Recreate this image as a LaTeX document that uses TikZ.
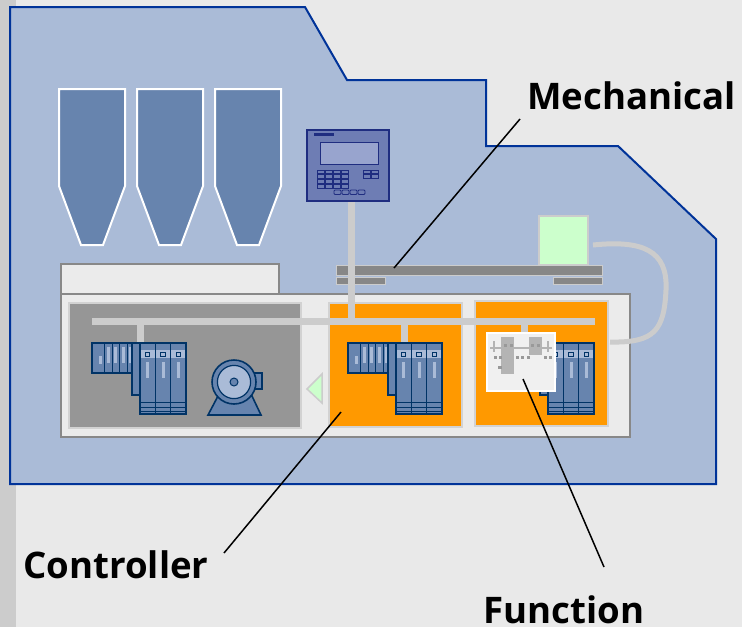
\documentclass[tikz,border=0pt]{standalone}
\usepackage{fontspec}
\setmainfont{Open Sans}
\usetikzlibrary{positioning, calc}

\definecolor{canvas}{HTML}{E9E9E9}
\definecolor{strip}{HTML}{CCCCCC}
\definecolor{plantfill}{HTML}{AABBD7}
\definecolor{plantline}{HTML}{003399}
\definecolor{silofill}{HTML}{6784AE}
\definecolor{boxfill}{HTML}{EBEBEB}
\definecolor{boxline}{HTML}{888888}
\definecolor{cellgray}{HTML}{969696}
\definecolor{cellline}{HTML}{D2D2D2}
\definecolor{orange}{HTML}{FF9900}
\definecolor{busgray}{HTML}{CCCCCC}
\definecolor{modfill}{HTML}{6784AE}
\definecolor{modline}{HTML}{003366}
\definecolor{modlight}{HTML}{AABBD7}
\definecolor{hmifill}{HTML}{6E7DB4}
\definecolor{hmiline}{HTML}{1F2D80}
\definecolor{hmiscreen}{HTML}{98A4CE}
\definecolor{mint}{HTML}{CCFFCC}
\definecolor{railgray}{HTML}{878787}
\definecolor{fbgray}{HTML}{B4B4B4}

\begin{document}
\begin{tikzpicture}[
    x=0.5pt, y=-0.5pt,
    tag/.style={anchor=base west, inner sep=0pt,
        font=\fontsize{18.3}{22}\selectfont\bfseries},
    leader/.style={line width=0.75pt, black},
    plant/.style={fill=plantfill, draw=plantline, line width=1pt, line join=miter},
    silo/.style={fill=silofill, draw=white, line width=1pt},
    frame/.style={fill=boxfill, draw=boxline, line width=0.75pt},
    cell/.style={draw=cellline, line width=1pt},
    bus/.style={busgray, line width=3.5pt},
    module/.style={fill=modfill, draw=modline, line width=0.8pt},
    thin/.style={modline, line width=0.4pt},
    keys/.style={draw=hmiline, line width=0.4pt},
    rail/.style={fill=railgray, draw=busgray, line width=0.5pt},
    plc/.pic={
        % rack of narrow cards
        \draw[module] (0,0) rectangle (50,30);
        \foreach \x in {12,20,27,35} \draw[thin] (\x,0) -- (\x,30);
        \fill[modlight] (7,13) rectangle ++(3,8);
        \foreach \x in {14.5,22,29.5,37} \fill[modlight] (\x,4) rectangle ++(3,16);
        % back plate
        \draw[module] (40,0) rectangle (50,52);
        % three wide cards
        \foreach \i in {0,1,2} {
            \draw[module] ({48+15.3*\i},0) rectangle ++(15.3,71);
            \fill[modlight] ({48.5+15.3*\i},7) rectangle ++(14.3,8);
            \draw[thin] ({53.5+15.3*\i},9) rectangle ++(4.3,4);
            \fill[modlight] ({54.2+15.3*\i},19) rectangle ++(3,16);
            \foreach \y in {59,64,68} \draw[thin] ({48+15.3*\i},\y) -- ++(15.3,0);
        }
    }
]

\useasboundingbox (0,0) rectangle (742,627);
\fill[canvas] (0,0) rectangle (742,627);
\fill[strip] (0,0) rectangle (16,627);

% plant outline
\draw[plant] (10,7) -- (305,7) -- (347,80) -- (486,80) -- (486,146) -- (618,146)
    -- (716,239) -- (716,484) -- (10,484) -- cycle;

% silos
\foreach \dx in {0,78,156}
    \draw[silo] (59+\dx,89) -- (125+\dx,89) -- (125+\dx,186) -- (103+\dx,245)
        -- (81+\dx,245) -- (59+\dx,186) -- cycle;

% feeder and main cabinet
\draw[frame] (61,294) -- (61,264) -- (279,264) -- (279,294);
\draw[frame] (61,294) rectangle (630,437);
\fill[cellgray] (69,303) rectangle (301,428);
\draw[cell] (69,303) rectangle (301,428);
\fill[orange] (329,303) rectangle (462,427);
\draw[cell] (329,303) rectangle (462,427);
\fill[orange] (475,301) rectangle (608,426);
\draw[cell] (475,301) rectangle (608,426);

% mechanical rail
\draw[rail] (336,265) rectangle (602,275);
\draw[rail] (336,277) rectangle (385,284);
\draw[rail] (553,277) rectangle (602,284);
\draw[fill=mint, draw=busgray, line width=0.75pt] (539,216) rectangle (588,265);
\draw[busgray, line width=2.5pt] (593,245) .. controls (642,240) and (668,250) .. (666,290)
    .. controls (664,330) and (655,343) .. (610,342);

% operator panel and its pole
\draw[bus] (351,200) -- (351,321);
\draw[fill=hmifill, draw=hmiline, line width=1pt] (307,130) rectangle (389,201);
\fill[hmiline] (314,133) rectangle (334,136);
\draw[fill=hmiscreen, draw=hmiline, line width=0.5pt] (320,142) rectangle (378,164);
\foreach \c in {0,...,3}
    \foreach \r in {0,...,3}
        \draw[keys] (317+8*\c,170+4.7*\r) rectangle ++(7,3.8);
\foreach \c in {0,1}
    \foreach \r in {0,1}
        \draw[keys] (363+8*\c,170+4.7*\r) rectangle ++(7,3.8);
\foreach \c in {0,...,3}
    \draw[keys, rounded corners=0.5pt] (334+8*\c,190) rectangle ++(7,4.5);

% fieldbus
\draw[bus] (92,321) -- (595,321);
\draw[bus] (140,321) -- (140,343);
\draw[bus] (404,321) -- (404,343);
\draw[bus] (524,321) -- (524,334);

% controllers
\pic at (92,343) {plc};
\pic at (348,343) {plc};
\pic at (500,343) {plc};

% drive motor
\draw[module] (208,415) -- (218,396) -- (252,396) -- (261,415) -- cycle;
\draw[module] (254,373) rectangle (262,389);
\draw[module] (234,382) circle (11pt);
\draw[fill=modlight, draw=modline, line width=0.6pt] (234,382) circle (8.3pt);
\draw[fill=modfill, draw=modline, line width=0.5pt] (234,382) circle (2pt);

% hand-over marker
\draw[fill=mint, draw=busgray, line width=0.75pt] (322,374) -- (307,389) -- (322,403) -- cycle;

% function block sheet
\draw[fill=white!94!black, draw=white, line width=1pt] (487,333) rectangle (555,391);
\fill[fbgray] (501,337) rectangle (514,374);
\fill[fbgray] (529,337) rectangle (542,355);
\draw[fbgray, line width=0.6pt] (490,348) -- (552,348);
\draw[fbgray, line width=0.6pt] (494,341) -- (494,352);
\draw[fbgray, line width=0.6pt] (548,341) -- (548,352);
\foreach \x in {494,499,516,521,527,544,549}
    \fill[black!40] (\x,356) rectangle ++(3,3);
\foreach \x in {504,510,531,537}
    \fill[black!40] (\x,344) rectangle ++(3,3);
\fill[black!40] (498,366) rectangle ++(4,3);

% labels and leaders
\node[tag] (mech) at (527,109) {Mechanical};
\node[tag] (ctrl) at (23,578) {Controller};
\node[tag] (func) at (483,623) {Function};
\coordinate (railpt) at (394,268);
\coordinate (cellpt) at (341,412);
\coordinate (sheetpt) at (523,379);
\draw[leader] ($(mech.base west)+(-7,10)$) -- (railpt);
\draw[leader] ($(ctrl.base west)+(201,-25)$) -- (cellpt);
\draw[leader] ($(func.base west)+(121,-56)$) -- (sheetpt);

\end{tikzpicture}
\end{document}
